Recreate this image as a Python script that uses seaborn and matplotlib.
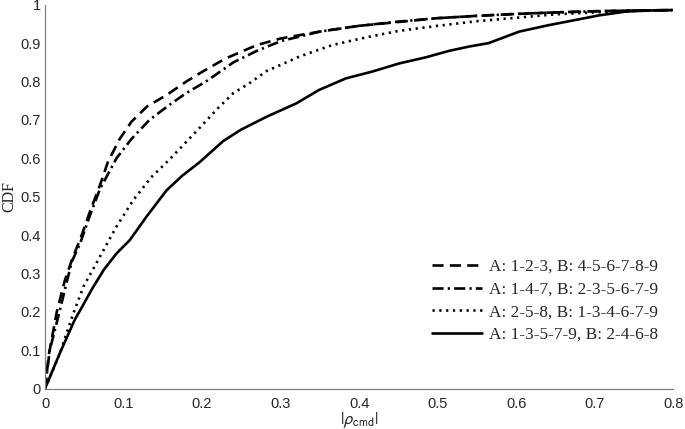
import matplotlib
matplotlib.use("Agg")
import matplotlib.pyplot as plt
import pandas as pd
import seaborn as sns

# CDF curves
x_123 = [0, 0.005, 0.015, 0.025, 0.035, 0.045, 0.057, 0.07, 0.08, 0.095, 0.11, 0.13, 0.155, 0.18, 0.2, 0.23, 0.27,
         0.3, 0.35, 0.4, 0.45, 0.5, 0.55, 0.6, 0.65, 0.7, 0.75, 0.8]
y_123 = [0, 0.09, 0.2, 0.28, 0.34, 0.39, 0.46, 0.53, 0.59, 0.65, 0.695, 0.735, 0.765, 0.8, 0.825, 0.86, 0.895,
         0.912, 0.93, 0.945, 0.955, 0.965, 0.971, 0.976, 0.98, 0.983, 0.985, 0.986]

x_147 = [0, 0.006, 0.019, 0.034, 0.045, 0.057, 0.07, 0.091, 0.11, 0.133, 0.159, 0.18, 0.205, 0.24, 0.27, 0.3,
         0.35, 0.4, 0.45, 0.5, 0.55, 0.6, 0.65, 0.7, 0.75, 0.8]
y_147 = [0, 0.1, 0.205, 0.33, 0.38, 0.45, 0.52, 0.6, 0.65, 0.7, 0.74, 0.77, 0.8, 0.85, 0.88, 0.905,
         0.93, 0.945, 0.956, 0.965, 0.971, 0.976, 0.98, 0.983, 0.985, 0.986]

x_258 = [0, 0.019, 0.035, 0.049, 0.07, 0.091, 0.112, 0.135, 0.16, 0.195, 0.22, 0.24, 0.26, 0.282, 0.324,
         0.366, 0.409, 0.451, 0.5, 0.55, 0.6, 0.65, 0.7, 0.75, 0.8]
y_258 = [0, 0.092, 0.19, 0.266, 0.344, 0.422, 0.49, 0.55, 0.6, 0.675, 0.73, 0.77, 0.795, 0.827, 0.865,
         0.895, 0.915, 0.932, 0.945, 0.957, 0.966, 0.975, 0.98, 0.984, 0.986]

x_13579 = [0, 0.019, 0.038, 0.045, 0.06, 0.075, 0.091, 0.108, 0.13, 0.155, 0.175, 0.197, 0.227, 0.25, 0.282,
           0.32, 0.349, 0.383, 0.417, 0.451, 0.485, 0.515, 0.54, 0.565, 0.604, 0.642, 0.68, 0.705, 0.739,
           0.77, 0.8]
y_13579 = [0, 0.093, 0.18, 0.205, 0.26, 0.31, 0.352, 0.387, 0.45, 0.517, 0.555, 0.59, 0.645, 0.675, 0.708,
           0.743, 0.778, 0.808, 0.826, 0.847, 0.863, 0.88, 0.891, 0.9, 0.93, 0.947, 0.962, 0.972, 0.982,
           0.985, 0.986]

labels = ["A: 1-2-3, B: 4-5-6-7-8-9",
          "A: 1-4-7, B: 2-3-5-6-7-9",
          "A: 2-5-8, B: 1-3-4-6-7-9",
          "A: 1-3-5-7-9, B: 2-4-6-8"]

xticks = [0, 0.1, 0.2, 0.3, 0.4, 0.5, 0.6, 0.7, 0.8]
xticklabels = ["0", "0.1", "0.2", "0.3", "0.4", "0.5", "0.6", "0.7", "0.8"]
yticks = [0, 0.1, 0.2, 0.3, 0.4, 0.5, 0.6, 0.7, 0.8, 0.9, 1]
yticklabels = ["0", "0.1", "0.2", "0.3", "0.4", "0.5", "0.6", "0.7", "0.8", "0.9", "1"]

sns.set_style("white")
plt.rcParams["font.family"] = ["Liberation Sans", "DejaVu Sans"]
plt.rcParams["mathtext.fontset"] = "stixsans"
plt.rcParams["lines.scale_dashes"] = False

df = pd.concat([
    pd.DataFrame({"x": x_123, "y": y_123, "set": labels[0]}),
    pd.DataFrame({"x": x_147, "y": y_147, "set": labels[1]}),
    pd.DataFrame({"x": x_258, "y": y_258, "set": labels[2]}),
    pd.DataFrame({"x": x_13579, "y": y_13579, "set": labels[3]}),
])

dash_styles = {labels[0]: (8, 4.5),
               labels[1]: (8, 3, 1.6, 3),
               labels[2]: (1.6, 3.3),
               labels[3]: ""}

fig = plt.figure(figsize=(6.85, 4.29), dpi=100)
ax = fig.add_axes([0.0657, 0.094, 0.917, 0.895])

sns.lineplot(data=df, x="x", y="y", hue="set", style="set", hue_order=labels, style_order=labels,
             palette=["black"] * 4, dashes=dash_styles, linewidth=1.9, sort=False,
             estimator=None, ax=ax)

ax.set_xlim(0, 0.8)
ax.set_ylim(0, 1)
ax.set_xticks(xticks)
ax.set_xticklabels(xticklabels)
ax.set_yticks(yticks)
ax.set_yticklabels(yticklabels)
ax.tick_params(direction="in", length=3, width=0.8, color="#808080", labelsize=10.5)
ax.tick_params(axis="x", pad=6)
ax.tick_params(axis="y", pad=3)

for s in ["top", "right"]:
    ax.spines[s].set_visible(False)
for s in ["left", "bottom"]:
    ax.spines[s].set_color("#808080")
    ax.spines[s].set_linewidth(0.9)

ax.set_xlabel(r"$|\rho_{\mathrm{cmd}}|$", fontsize=12.5, va="top")
ax.xaxis.set_label_coords(0.5, -0.058)
ax.set_ylabel("CDF", fontsize=11.5, family=["Liberation Serif"])
ax.yaxis.set_label_coords(-0.044, 0.5)

leg = ax.legend(loc="upper right", bbox_to_anchor=(1.0, 0.378), frameon=False,
                prop={"family": "Liberation Serif", "size": 12.4},
                handlelength=2.9, handletextpad=0.36, labelspacing=0.38)
for line in leg.get_lines():
    line.set_linewidth(1.9)

fig.savefig("out.png", dpi=100)
